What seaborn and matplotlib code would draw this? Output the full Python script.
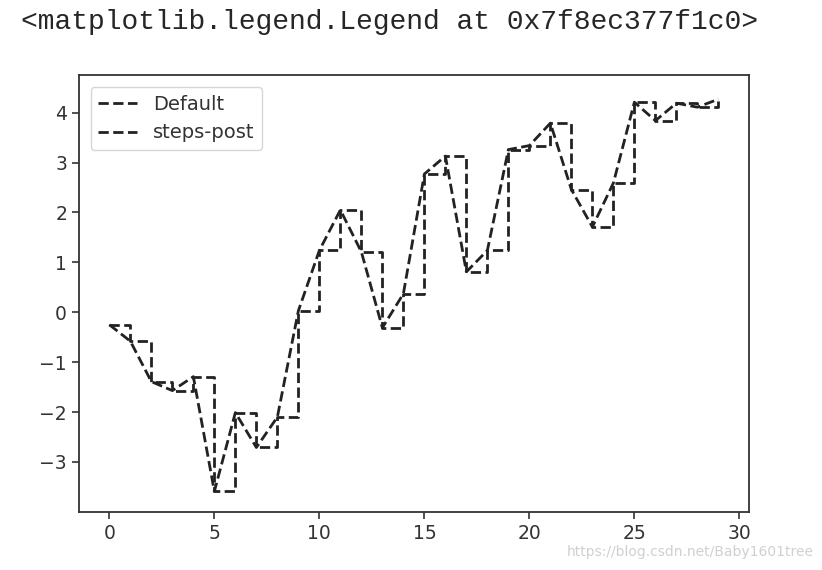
import matplotlib
matplotlib.use("Agg")
import matplotlib.pyplot as plt
import seaborn as sns
import numpy as np

sns.set_style("ticks")
plt.rcParams["font.family"] = ["DejaVu Sans"]

# random-walk values, x = 0..29
x = list(range(30))
y = [-0.25, -0.58, -1.39, -1.57, -1.29, -3.59, -2.01, -2.71, -2.10, 0.03,
     1.24, 2.05, 1.21, -0.31, 0.37, 2.77, 3.13, 0.81, 1.24, 3.26,
     3.34, 3.79, 2.46, 1.71, 2.59, 4.21, 3.84, 4.19, 4.11, 4.27]
labels = ["Default", "steps-post"]

fig = plt.figure(figsize=(8.22, 5.7), dpi=100)
ax = fig.add_axes([0.096, 0.102, 0.815, 0.766])

sns.lineplot(x=x, y=y, ax=ax, color="#222222", linestyle="--", linewidth=2.0,
             label=labels[0])
sns.lineplot(x=x, y=y, ax=ax, color="#222222", linestyle="--", linewidth=2.0,
             drawstyle="steps-post", label=labels[1])

ax.set_xlim(-1.45, 30.45)
ax.set_ylim(-4.0, 4.75)
ax.set_xticks([0, 5, 10, 15, 20, 25, 30])
ax.set_yticks([-3, -2, -1, 0, 1, 2, 3, 4])
ax.tick_params(labelsize=13.5, length=5, width=1.2, color="#333333", labelcolor="#333333")
for s in ax.spines.values():
    s.set_visible(True)
    s.set_linewidth(1.3)
    s.set_color("#333333")

leg = ax.legend(loc="upper left", fontsize=14, frameon=True, handlelength=2.0,
                borderaxespad=0.6)
leg.get_frame().set_edgecolor("#cccccc")
for t in leg.get_texts():
    t.set_color("#333333")

fig.text(0.025, 0.962, "<matplotlib.legend.Legend at 0x7f8ec377f1c0>",
         family="Liberation Mono", fontsize=20.2, va="center", ha="left")
fig.text(0.99, 0.032, "https://blog.csdn.net/Baby1601tree", color="#d0d0d0",
         fontsize=10, ha="right", va="center")

fig.savefig("out.png", dpi=100)
